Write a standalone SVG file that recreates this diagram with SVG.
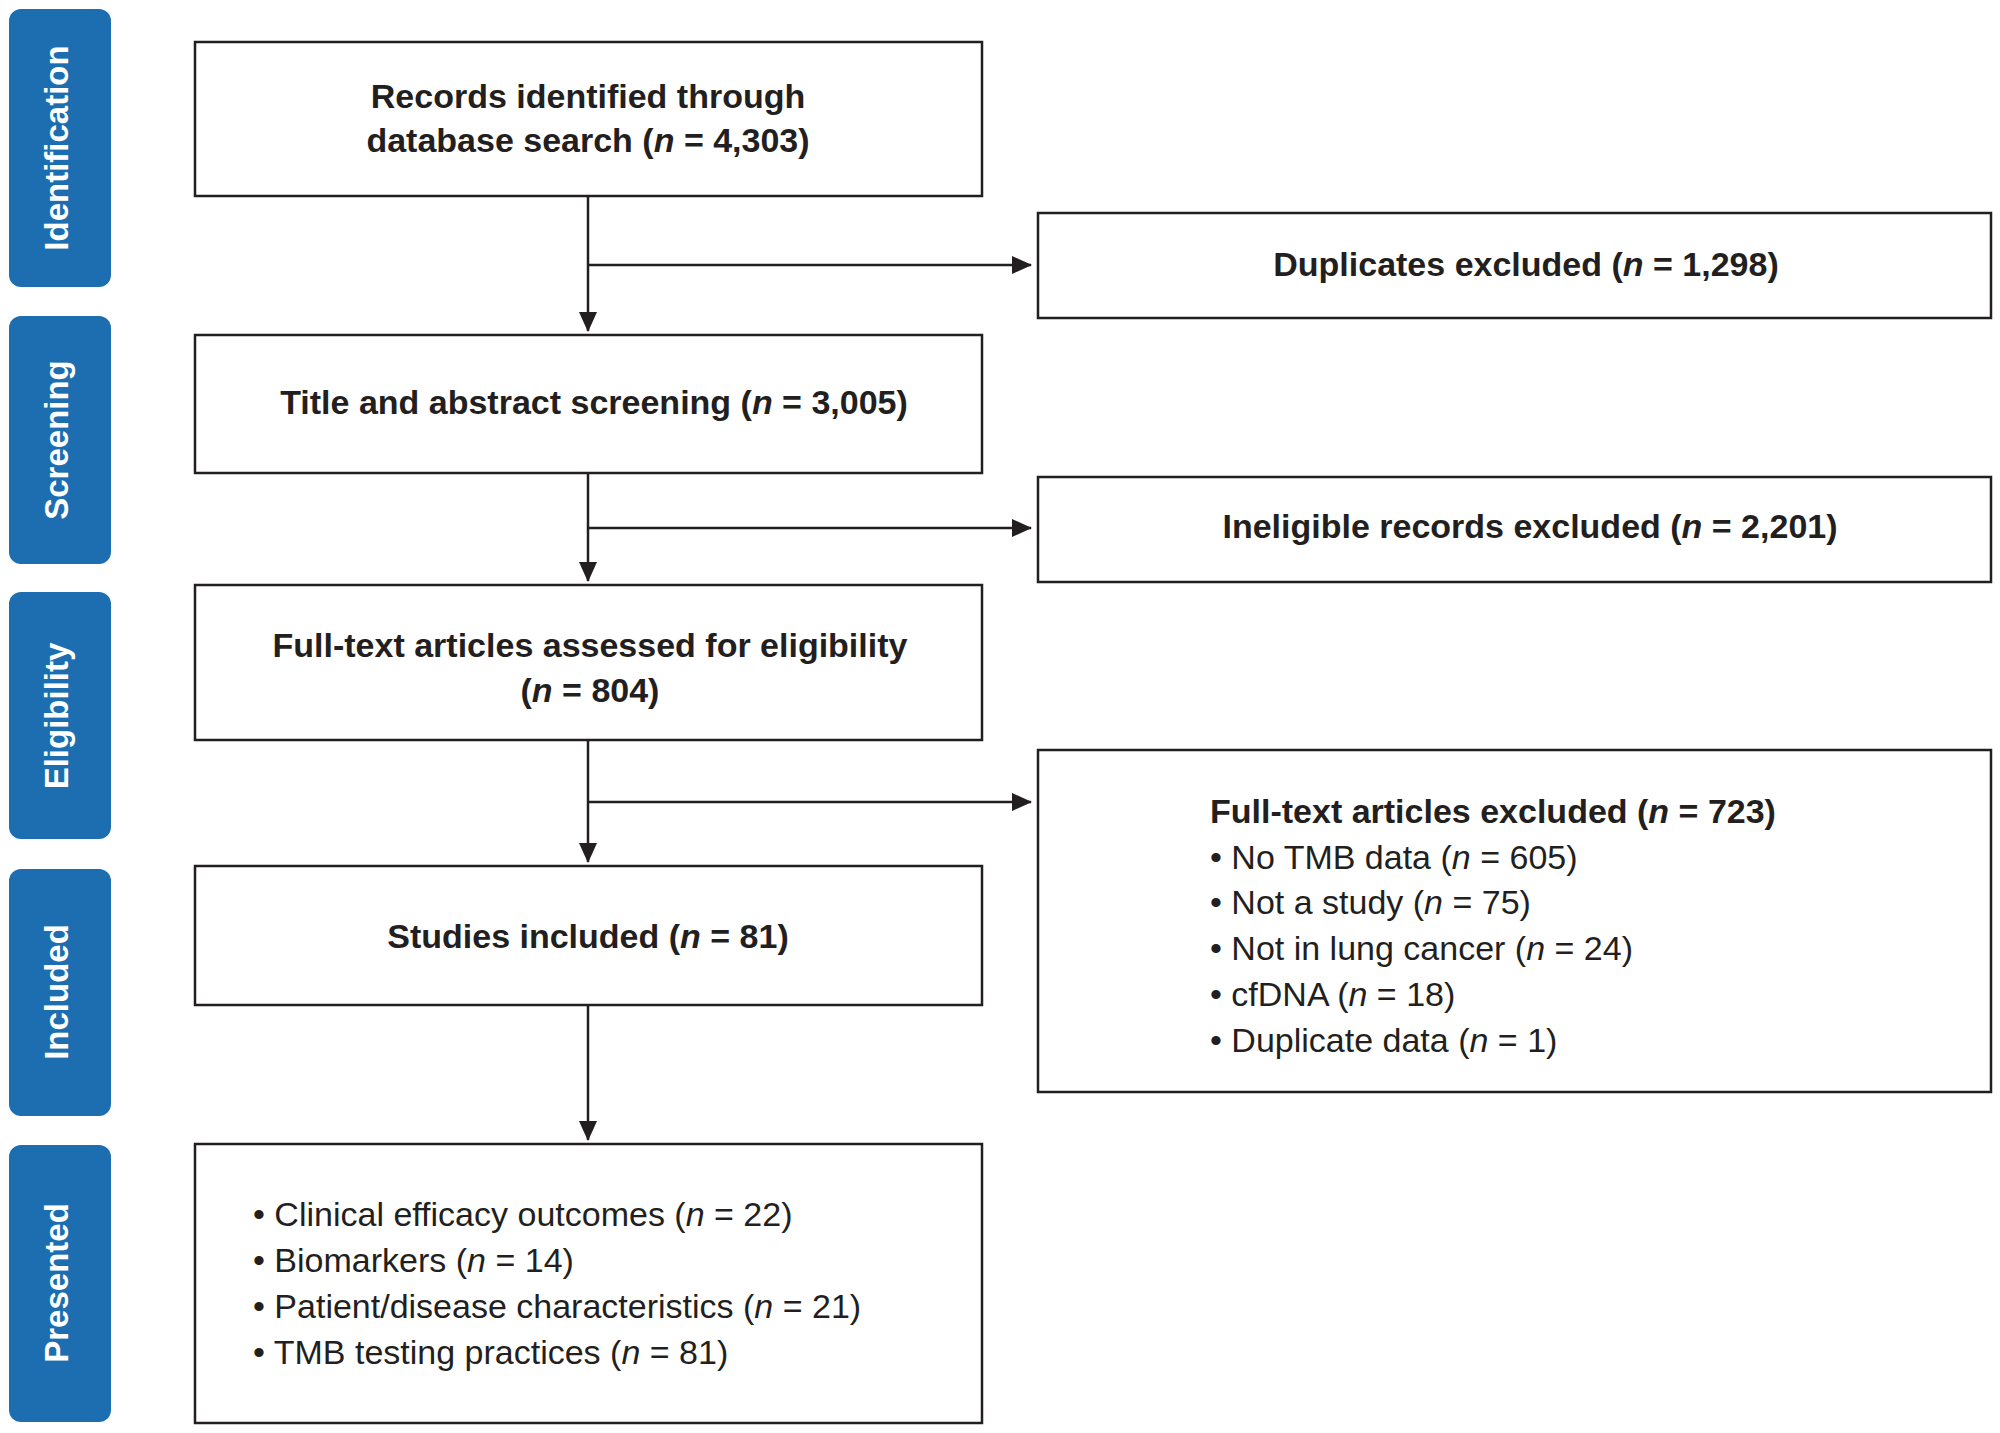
<svg xmlns="http://www.w3.org/2000/svg" width="2000" height="1433" viewBox="0 0 2000 1433">
<style>
.side{fill:#1d6eb0}
.st{font-family:"Liberation Sans",Arial,sans-serif;font-weight:bold;font-size:33px;fill:#fff;text-anchor:middle}
.box{fill:#fff;stroke:#231f20;stroke-width:2.5}
.b{font-family:"Liberation Sans",Arial,sans-serif;font-weight:bold;font-size:34px;fill:#231f20}
.r{font-family:"Liberation Sans",Arial,sans-serif;font-size:34px;fill:#231f20}
.c{text-anchor:middle}
.ln{stroke:#231f20;stroke-width:2.5;fill:none}
</style>
<defs><marker id="ah" markerWidth="10" markerHeight="10" refX="9" refY="5" orient="auto" markerUnits="userSpaceOnUse" viewBox="0 0 10 10"><path d="M0,0L10,5L0,10z" fill="#231f20" transform="scale(1)"/></marker>
<marker id="a" markerWidth="20" markerHeight="18" refX="19" refY="9" orient="auto" markerUnits="userSpaceOnUse"><path d="M0,0L20,9L0,18z" fill="#231f20"/></marker></defs>
<rect width="2000" height="1433" fill="#fff"/>
<g id="stage-identification"><rect class="side" x="9" y="9" width="102" height="278" rx="12"/><text class="st" transform="translate(68,148) rotate(-90)">Identification</text></g>
<g id="stage-screening"><rect class="side" x="9" y="316" width="102" height="248" rx="12"/><text class="st" transform="translate(68,440) rotate(-90)">Screening</text></g>
<g id="stage-eligibility"><rect class="side" x="9" y="592" width="102" height="247" rx="12"/><text class="st" transform="translate(68,716) rotate(-90)">Eligibility</text></g>
<g id="stage-included"><rect class="side" x="9" y="869" width="102" height="247" rx="12"/><text class="st" transform="translate(68,992) rotate(-90)">Included</text></g>
<g id="stage-presented"><rect class="side" x="9" y="1145" width="102" height="277" rx="12"/><text class="st" transform="translate(68,1283) rotate(-90)">Presented</text></g>
<g id="connectors">
<path class="ln" d="M588,196V331" marker-end="url(#a)"/>
<path class="ln" d="M588,265H1031" marker-end="url(#a)"/>
<path class="ln" d="M588,473V581" marker-end="url(#a)"/>
<path class="ln" d="M588,528H1031" marker-end="url(#a)"/>
<path class="ln" d="M588,740V862" marker-end="url(#a)"/>
<path class="ln" d="M588,802H1031" marker-end="url(#a)"/>
<path class="ln" d="M588,1005V1140" marker-end="url(#a)"/>
</g>
<g id="records"><rect class="box" x="195" y="42" width="787" height="154"/>
<text class="b c" x="588" y="108">Records identified through</text>
<text class="b c" x="588" y="152">database search (<tspan font-style="italic">n</tspan> = 4,303)</text></g>
<g id="duplicates"><rect class="box" x="1038" y="213" width="953" height="105"/>
<text class="b c" x="1526" y="276">Duplicates excluded (<tspan font-style="italic">n</tspan> = 1,298)</text></g>
<g id="screening"><rect class="box" x="195" y="335" width="787" height="138"/>
<text class="b c" x="594" y="414">Title and abstract screening (<tspan font-style="italic">n</tspan> = 3,005)</text></g>
<g id="ineligible"><rect class="box" x="1038" y="477" width="953" height="105"/>
<text class="b c" x="1530" y="538">Ineligible records excluded (<tspan font-style="italic">n</tspan> = 2,201)</text></g>
<g id="fulltext"><rect class="box" x="195" y="585" width="787" height="155"/>
<text class="b c" x="590" y="657">Full-text articles assessed for eligibility</text>
<text class="b c" x="590" y="702">(<tspan font-style="italic">n</tspan> = 804)</text></g>
<g id="excluded"><rect class="box" x="1038" y="750" width="953" height="342"/>
<text class="b" x="1210" y="823">Full-text articles excluded (<tspan font-style="italic">n</tspan> = 723)</text>
<text class="r" x="1210" y="869">• No TMB  data (<tspan font-style="italic">n</tspan> = 605)</text>
<text class="r" x="1210" y="914">• Not a study (<tspan font-style="italic">n</tspan> = 75)</text>
<text class="r" x="1210" y="960">• Not in lung cancer (<tspan font-style="italic">n</tspan> = 24)</text>
<text class="r" x="1210" y="1006">• cfDNA (<tspan font-style="italic">n</tspan> = 18)</text>
<text class="r" x="1210" y="1052">• Duplicate data (<tspan font-style="italic">n</tspan> = 1)</text></g>
<g id="included"><rect class="box" x="195" y="866" width="787" height="139"/>
<text class="b c" x="588" y="948">Studies included (<tspan font-style="italic">n</tspan> = 81)</text></g>
<g id="presented"><rect class="box" x="195" y="1144" width="787" height="279"/>
<text class="r" x="253" y="1226">• Clinical efficacy outcomes (<tspan font-style="italic">n</tspan> = 22)</text>
<text class="r" x="253" y="1272">• Biomarkers (<tspan font-style="italic">n</tspan> = 14)</text>
<text class="r" x="253" y="1318">• Patient/disease characteristics (<tspan font-style="italic">n</tspan> = 21)</text>
<text class="r" x="253" y="1364">• TMB testing practices (<tspan font-style="italic">n</tspan> = 81)</text></g>
</svg>
